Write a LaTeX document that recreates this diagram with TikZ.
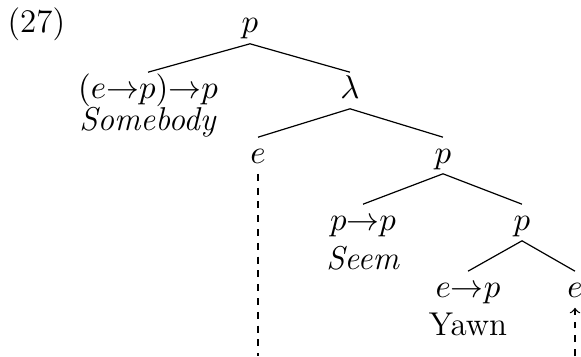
\documentclass[tikz,border=0pt]{standalone}
\begin{document}
\begin{tikzpicture}[x=0.3333pt,y=-0.3333pt,
  every node/.style={font=\fontsize{11}{13}\selectfont},
  cat/.style={inner sep=0pt,text height=8.4pt,text depth=3.4pt,anchor=base},
  word/.style={inner sep=0pt,anchor=base},
  edge/.style={line width=0.4pt},
  trace/.style={line width=0.4pt,dash pattern=on 2.3pt off 2.3pt}]
\useasboundingbox (0,0) rectangle (581,356);
\node[anchor=base west,inner sep=0pt] (num) at (7,33) {(27)};
\node[cat] (r) at (250,33) {$p$};
\node[cat] (q) at (148,98) {$(e{\rightarrow}p){\rightarrow}p$};
\node[word] (w1) at (148,131) {\textit{Somebody}};
\node[cat] (lam) at (350,98) {$\lambda$};
\node[cat] (e1) at (258,163) {$e$};
\node[cat] (p2) at (443,163) {$p$};
\node[cat] (pp) at (363,230) {$p{\rightarrow}p$};
\node[word] (w2) at (363,269) {\textit{Seem}};
\node[cat] (p3) at (522,230) {$p$};
\node[cat] (ep) at (468,297) {$e{\rightarrow}p$};
\node[word] (w3) at (468,335) {Yawn};
\node[cat] (e2) at (575,297) {$e$};
\coordinate (b1) at (258,356);
\coordinate (b2) at (575,356);
\draw[edge] (q.north) -- (r.south) -- (lam.north);
\draw[edge] (e1.north) -- (lam.south) -- (p2.north);
\draw[edge] (pp.north) -- (p2.south) -- (p3.north);
\draw[edge] (ep.north) -- (p3.south) -- (e2.north);
\draw[trace] (e1.south) -- (b1);
\draw[trace,->] (b2) -- (e2.south);
\end{tikzpicture}
\end{document}
